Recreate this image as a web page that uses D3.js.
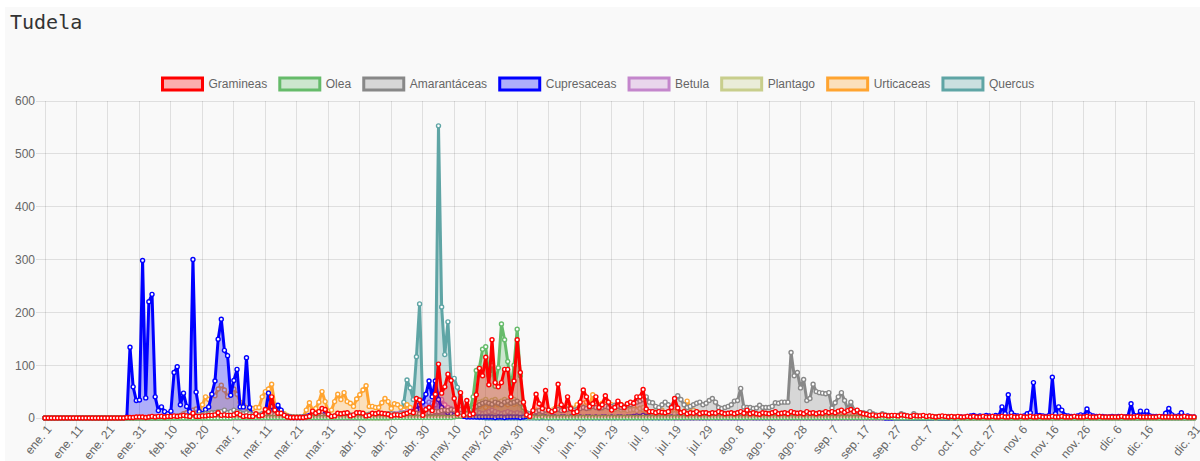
<!DOCTYPE html>
<html><head><meta charset="utf-8">
<script src="https://cdn.jsdelivr.net/npm/d3@7"></script>
<style>body{margin:0;background:#fff}svg{display:block}</style>
</head><body><svg id="c" width="1200" height="461"></svg>
<script>
const months = ["ene.","feb.","mar.","abr.","may.","jun.","jul.","ago.","sep.","oct.","nov.","dic."];
const monthDays = [31,29,31,30,31,30,31,31,30,31,30,31];
const categories = [];
months.forEach((m,k)=>{for(let d=1; d<=monthDays[k]; d++) categories.push(m+" "+d);});
const tickLabels = ["ene. 1","ene. 11","ene. 21","ene. 31","feb. 10","feb. 20","mar. 1","mar. 11","mar. 21","mar. 31","abr. 10","abr. 20","abr. 30","may. 10","may. 20","may. 30","jun. 9","jun. 19","jun. 29","jul. 9","jul. 19","jul. 29","ago. 8","ago. 18","ago. 28","sep. 7","sep. 17","sep. 27","oct. 7","oct. 17","oct. 27","nov. 6","nov. 16","nov. 26","dic. 6","dic. 16","dic. 31"];
const yTicks = [0,100,200,300,400,500,600];
const seriesNames = ["Gramineas","Olea","Amarantáceas","Cupresaceas","Betula","Plantago","Urticaceas","Quercus"];
const seriesColors = ["rgb(255,0,0)","rgb(102,187,106)","rgb(136,136,136)","rgb(0,0,255)","rgb(196,134,204)","rgb(200,206,140)","rgb(255,164,48)","rgb(95,165,165)"];

const gramineas = [
0,0,0,0,0,0,0,0,0,0, 0,0,0,0,0,0,0,0,0,0, 0,0,0,0,0,0,1,1,1,2, 2,2,1,2,3,2,3,3,2,3,
3,4,3,4,5,4,3,9,3,3, 4,4,5,5,6,10,5,6,5,5, 6,9,6,3,4,3,3,8,4,5, 16,12,40,15,9,9,5,2,1,1,
1,1,1,2,3,13,9,12,18,16, 7,3,4,9,8,9,10,4,6,10, 10,9,4,5,9,8,10,9,8,7, 4,6,6,5,7,9,12,10,37,34,
5,16,20,14,45,102,47,59,83,71, 37,8,48,5,33,6,8,44,94,80, 115,63,148,67,59,67,92,92,40,70, 148,86,30,6,3,14,45,27,18,52,
15,12,15,64,25,15,40,18,10,12, 30,53,40,22,27,40,20,25,42,30, 15,20,32,25,20,27,30,28,40,40, 54,17,12,12,10,12,11,10,12,20,
37,19,10,12,8,10,9,12,8,10, 10,8,10,9,12,10,8,9,10,8, 10,12,9,15,8,10,8,7,10,9, 8,10,12,8,9,10,8,12,10,9,
10,8,12,9,10,8,10,9,12,10, 12,10,13,15,11,14,16,12,15,10, 8,7,5,6,4,5,6,5,4,5, 5,4,6,5,4,3,5,4,4,5,
3,4,3,2,3,4,3,2,3,2, 3,2,2,3,2,3,2,2,3,2, 2,3,2,2,3,2,2,3,2,2, 3,2,2,3,2,2,3,2,2,2,
3,2,2,3,2,2,2,3,2,2, 2,3,2,2,2,3,2,2,2,2, 2,2,3,2,2,2,2,3,2,2, 2,2,2,2,3,2,2,2,2,2, 2,2,3,2,2,2];

const olea = [
0,0,0,0,0,0,0,0,0,0, 0,0,0,0,0,0,0,0,0,0, 0,0,0,0,0,0,0,0,0,0, 0,0,0,0,0,0,0,0,0,0,
0,0,0,0,0,0,0,0,0,0, 0,0,0,0,0,0,0,0,0,0, 1,1,1,1,1,1,1,1,1,1, 1,1,1,1,1,1,1,1,1,1,
1,1,1,1,1,1,1,1,1,1, 1,1,1,1,1,1,1,1,1,1, 1,1,1,1,1,1,1,1,1,1, 1,1,1,1,1,1,1,1,1,1,
1,1,1,1,1,1,1,1,1,1, 2,3,3,5,8,15,40,90,95,130, 135,80,100,60,95,178,148,107,55,100, 168,80,20,5,2,2,1,1,2,1,
1,1,1,1,1,1,1,1,1,1, 1,1,1,1,1,1,1,1,1,1, 1,1,1,1,1,1,1,1,1,1, 1,1,1,1,1,1,1,1,1,1,
1,1,1,1,1,1,1,1,1,1, 1,1,1,1,1,1,1,1,1,1, 1,1,1,1,1,1,1,1,1,1, 1,1,1,1,1,1,1,1,1,1,
1,1,1,1,1,1,1,1,1,1, 1,1,1,1,1,1,1,1,1,1, 1,1,1,1,1,1,1,1,1,1, 0,0,0,0,0,0,0,0,0,0,
0,0,0,0,0,0,0,0,0,0, 0,0,0,0,0,0,0,0,0,0, 0,0,0,0,0,0,0,0,0,0, 0,0,0,0,0,0,0,0,0,0,
0,0,0,0,0,0,0,0,0,0, 0,0,0,0,0,0,0,0,0,0, 0,0,0,0,0,0,0,0,0,0, 0,0,0,0,0,0,0,0,0,0, 0,0,0,0,0,0];

const amarantaceas = [
0,0,0,0,0,0,0,0,0,0, 0,0,0,0,0,0,0,0,0,0, 0,0,0,0,0,0,0,0,0,0, 0,0,0,0,0,0,0,0,0,0,
1,1,2,2,3,3,4,5,5,6, 6,8,8,10,10,12,12,15,10,12, 15,12,10,8,10,8,6,5,6,8, 8,10,8,6,5,4,3,2,2,2,
2,2,2,3,3,4,3,4,5,4, 4,3,4,5,5,4,5,6,5,6, 6,5,6,7,6,7,8,7,6,8, 8,7,6,8,9,8,7,8,9,8,
8,9,10,10,12,12,14,15,14,16, 15,14,16,18,16,18,20,22,25,28, 30,28,26,30,28,25,30,32,28,30, 32,28,20,10,8,10,12,14,12,15,
14,12,15,16,14,15,16,18,15,16, 18,20,18,20,22,20,18,20,22,20, 22,24,22,20,22,24,25,28,30,32, 35,40,30,29,22,20,25,30,25,20,
30,42,35,25,20,22,25,28,30,25, 28,33,37,30,20,18,20,22,25,32, 33,56,21,20,20,18,19,24,20,20, 20,22,29,28,30,30,30,124,80,86,
57,73,33,37,64,50,48,47,46,48, 19,29,40,48,33,17,30,15,12,10, 10,8,12,8,6,5,8,6,5,4, 4,5,8,6,4,3,8,5,3,4,
3,4,3,2,3,2,2,3,2,2, 1,1,1,1,1,1,1,1,1,1, 1,1,1,1,1,1,1,1,1,1, 1,1,1,1,1,1,1,1,1,1,
1,1,1,1,1,1,1,1,1,1, 1,1,1,1,1,1,1,1,1,1, 1,1,1,1,1,1,1,1,1,1, 1,1,1,1,1,1,1,1,1,1, 1,1,1,1,1,1];

const cupresaceas = [
0,0,0,0,0,0,0,0,0,0, 0,0,0,0,0,0,0,0,0,0, 0,0,0,0,0,0,2,134,59,33, 34,298,38,220,234,40,14,21,12,8,
13,86,97,25,47,22,12,300,49,12, 8,16,21,45,70,149,187,128,118,43, 71,92,21,21,114,20,2,5,5,4, 10,47,22,5,24,15,5,3,2,1,
1,1,2,3,5,4,3,6,12,5, 3,2,2,3,2,3,2,2,3,2, 3,2,3,3,4,3,2,3,2,3, 3,4,3,5,6,8,10,12,15,25,
30,45,70,40,70,35,20,15,10,8, 5,4,3,3,2,2,2,2,2,2, 2,2,2,1,2,2,1,2,2,2, 2,1,2,3,4,3,2,1,2,2,
1,2,2,1,2,2,1,2,2,1, 2,1,2,2,1,2,1,2,2,1, 2,1,2,2,1,2,2,3,4,3, 5,3,2,1,2,1,2,1,1,2,
1,2,1,1,2,1,1,2,1,1, 1,1,2,1,1,1,2,1,1,1, 1,1,1,1,2,1,1,1,1,1, 1,1,1,1,1,1,1,1,1,1,
1,1,1,1,1,1,1,1,1,1, 1,1,1,1,1,1,1,1,1,1, 1,1,1,1,1,1,1,0,0,0, 0,0,0,0,0,0,0,0,0,0,
0,0,0,1,0,0,0,0,1,0, 1,2,1,3,4,5,3,4,3,5, 4,3,5,4,21,8,44,10,5,4, 3,4,8,10,67,5,5,4,3,5,
77,8,21,15,5,4,3,3,4,6, 4,17,6,4,3,3,3,2,2,3, 2,3,2,2,3,27,5,4,13,5, 13,4,3,3,2,3,9,18,6,3, 4,10,3,4,2,2];

const betula = [
0,0,0,0,0,0,0,0,0,0, 0,0,0,0,0,0,0,0,0,0, 0,0,0,0,0,0,0,0,0,0, 0,0,0,0,0,0,0,0,0,0,
0,0,0,0,0,0,0,0,0,0, 0,0,0,0,0,0,0,0,0,0, 0,0,0,0,0,0,0,0,0,0, 0,0,0,0,0,0,0,0,0,0,
0,0,0,0,0,0,0,0,0,0, 0,0,0,0,0,0,0,0,0,0, 1,1,1,2,2,3,3,4,5,6, 6,8,8,10,10,12,12,15,18,20,
20,25,30,28,25,30,35,25,20,18, 15,12,10,12,10,8,10,12,10,8, 10,12,15,12,10,8,10,12,10,8, 10,8,5,3,2,2,1,1,1,1,
1,1,1,1,1,1,1,1,1,1, 1,1,1,1,1,1,1,1,1,1, 1,1,1,1,1,1,1,1,1,1, 1,1,1,1,1,1,1,1,1,1,
0,0,0,0,0,0,0,0,0,0, 0,0,0,0,0,0,0,0,0,0, 0,0,0,0,0,0,0,0,0,0, 0,0,0,0,0,0,0,0,0,0,
0,0,0,0,0,0,0,0,0,0, 0,0,0,0,0,0,0,0,0,0, 0,0,0,0,0,0,0,0,0,0, 0,0,0,0,0,0,0,0,0,0,
0,0,0,0,0,0,0,0,0,0, 0,0,0,0,0,0,0,0,0,0, 0,0,0,0,0,0,0,0,0,0, 0,0,0,0,0,0,0,0,0,0,
0,0,0,0,0,0,0,0,0,0, 0,0,0,0,0,0,0,0,0,0, 0,0,0,0,0,0,0,0,0,0, 0,0,0,0,0,0,0,0,0,0, 0,0,0,0,0,0];

const plantago = [
0,0,0,0,0,0,0,0,0,0, 0,0,0,0,0,0,0,0,0,0, 0,0,0,0,0,0,0,0,0,0, 0,0,0,0,0,0,0,0,0,0,
0,0,0,0,0,0,0,0,0,0, 0,0,0,0,0,0,0,0,0,0, 0,0,0,0,0,0,0,0,0,0, 0,0,0,0,0,0,0,0,0,0,
0,0,0,0,0,0,0,0,0,0, 0,0,0,0,0,0,0,0,0,0, 0,0,0,0,0,0,0,0,0,0, 1,1,2,2,3,3,4,5,5,6,
6,8,8,10,10,12,10,12,14,12, 15,14,16,18,20,22,25,28,30,32, 35,30,33,35,30,32,35,30,28,35, 30,25,15,8,6,8,10,12,10,15,
12,14,16,18,15,16,18,20,16,18, 20,22,20,18,22,24,20,18,22,20, 18,16,18,15,16,14,15,16,14,18, 20,15,12,10,12,10,8,10,8,7,
8,6,5,6,5,4,5,4,3,4, 3,3,2,3,2,2,3,2,2,2, 2,1,1,1,1,1,1,1,1,1, 0,0,0,0,0,0,0,0,0,0,
0,0,0,0,0,0,0,0,0,0, 0,0,0,0,0,0,0,0,0,0, 0,0,0,0,0,0,0,0,0,0, 0,0,0,0,0,0,0,0,0,0,
0,0,0,0,0,0,0,0,0,0, 0,0,0,0,0,0,0,0,0,0, 0,0,0,0,0,0,0,0,0,0, 0,0,0,0,0,0,0,0,0,0,
0,0,0,0,0,0,0,0,0,0, 0,0,0,0,0,0,0,0,0,0, 0,0,0,0,0,0,0,0,0,0, 0,0,0,0,0,0,0,0,0,0, 0,0,0,0,0,0];

const urticaceas = [
0,0,0,0,0,0,0,0,0,0, 0,0,0,0,0,0,0,0,0,0, 0,0,0,0,0,0,0,0,0,0, 0,0,0,0,0,0,0,0,0,0,
2,3,4,5,8,10,12,15,17,15, 25,40,35,45,42,55,62,53,40,48, 55,45,30,25,20,15,18,20,20,40, 50,55,64,25,18,13,8,5,3,2,
2,2,2,15,29,15,18,30,50,31, 12,15,31,45,35,48,31,28,22,36, 44,53,61,22,22,20,20,29,37,31, 18,27,25,20,15,25,20,15,10,8,
8,10,12,10,8,10,12,15,12,10, 12,15,10,12,15,18,20,18,22,25, 20,25,22,28,25,30,28,25,30,26, 28,25,15,8,6,10,15,12,10,15,
12,15,18,20,15,18,22,20,18,25, 22,28,30,25,44,30,25,28,26,30, 25,20,22,25,20,18,20,22,15,18, 15,12,10,12,10,12,15,10,12,15,
12,15,10,12,32,20,15,12,10,8, 8,6,5,6,5,4,5,6,4,5, 4,5,3,4,5,3,4,3,4,5, 5,4,3,4,3,8,4,3,2,3,
2,3,4,5,3,2,2,3,2,2, 2,2,2,3,2,2,2,2,2,2, 2,1,1,2,1,1,1,1,1,1, 0,0,0,0,0,0,0,0,0,0,
0,0,0,0,0,0,0,0,0,0, 0,0,0,0,0,0,0,0,0,0, 0,0,0,0,0,0,0,0,0,0, 0,0,0,0,0,0,0,0,0,0,
0,0,0,0,0,0,0,0,0,0, 0,0,0,0,0,0,0,0,0,0, 0,0,0,0,0,0,0,0,0,0, 0,0,0,0,0,0,0,0,0,0, 0,0,0,0,0,0];

const quercus = [
0,0,0,0,0,0,0,0,0,0, 0,0,0,0,0,0,0,0,0,0, 0,0,0,0,0,0,0,0,0,0, 0,0,0,0,0,0,0,0,0,0,
0,0,0,0,0,0,0,0,0,0, 0,0,0,0,0,0,0,0,0,0, 0,0,0,0,0,0,0,0,0,0, 0,0,0,0,0,0,0,0,0,0,
0,0,0,0,0,0,0,0,0,0, 0,0,0,0,0,0,0,0,0,0, 0,0,0,0,0,0,0,0,0,0, 1,2,3,10,30,72,57,35,116,216,
25,15,15,20,40,553,210,120,182,73, 75,58,40,20,10,5,3,2,1,1, 0,0,0,0,0,0,0,0,0,0, 0,0,0,0,0,0,0,0,0,0,
0,0,0,0,0,0,0,0,0,0, 0,0,0,0,0,0,0,0,0,0, 0,0,0,0,0,0,0,0,0,0, 0,0,0,0,0,0,0,0,0,0,
0,0,0,0,0,0,0,0,0,0, 0,0,0,0,0,0,0,0,0,0, 0,0,0,0,0,0,0,0,0,0, 0,0,0,0,0,0,0,0,0,0,
0,0,0,0,0,0,0,0,0,0, 0,0,0,0,0,0,0,0,0,0, 0,0,0,0,0,0,0,0,0,0, 0,0,0,0,0,0,0,0,0,0,
0,0,0,0,0,0,0,0,0,0, 0,0,0,0,0,0,0,0,0,0, 0,0,0,0,0,0,0,0,0,0, 0,0,0,0,0,0,0,0,0,0,
0,0,0,0,0,0,0,0,0,0, 0,0,0,0,0,0,0,0,0,0, 0,0,0,0,0,0,0,0,0,0, 0,0,0,0,0,0,0,0,0,0, 0,0,0,0,0,0];

const seriesValues = [gramineas, olea, amarantaceas, cupresaceas, betula, plantago, urticaceas, quercus];

const W = 1200, H = 461;
const pLeft = 45, pRight = 1194, pTop = 101, pBottom = 418;
const svg = d3.select("#c");
const FONT = "'Liberation Sans', Arial, sans-serif";

svg.append("rect").attr("x",5).attr("y",7).attr("width",W-5).attr("height",H-7).attr("fill","#f9f9f9");
svg.append("text").attr("x",10).attr("y",29).text("Tudela")
  .attr("font-family","'DejaVu Sans Mono', monospace").attr("font-size",20).attr("fill","#333");

const x = d3.scaleLinear().domain([0, categories.length-1]).range([pLeft, pRight]);
const y = d3.scaleLinear().domain([0, 600]).range([pBottom, pTop]);

// grid
const grid = svg.append("g");
yTicks.forEach(t => {
  grid.append("line").attr("x1",pLeft-9).attr("x2",pRight).attr("y1",y(t)).attr("y2",y(t))
    .attr("stroke","rgba(0,0,0,0.1)").attr("stroke-width",1).attr("shape-rendering","crispEdges");
});
const tickIdx = tickLabels.map(l => categories.indexOf(l));
tickIdx.forEach(i => {
  grid.append("line").attr("x1",x(i)).attr("x2",x(i)).attr("y1",pTop).attr("y2",pBottom+9)
    .attr("stroke","rgba(0,0,0,0.1)").attr("stroke-width",1).attr("shape-rendering","crispEdges");
});

// y labels
const yAxis = d3.axisLeft(y).tickValues(yTicks).tickSize(0).tickPadding(10);
const ya = svg.append("g").attr("transform",`translate(${pLeft},0)`).call(yAxis);
ya.select(".domain").remove();
ya.selectAll("text").attr("font-family",FONT).attr("font-size",12).attr("fill","#666");

// x labels
const xl = svg.append("g");
tickLabels.forEach((lab,k) => {
  const i = tickIdx[k];
  xl.append("text").attr("transform",`translate(${x(i)+4},${pBottom+9}) rotate(-50)`)
    .attr("text-anchor","end").attr("dy","0.35em")
    .attr("font-family",FONT).attr("font-size",12).attr("fill","#666").text(lab);
});

// data
const plot = svg.append("g");
const area = d3.area().x((d,i)=>x(i)).y0(y(0)).y1(d=>y(d));
const line = d3.line().x((d,i)=>x(i)).y(d=>y(d));
for (let s = seriesValues.length-1; s >= 0; s--) {
  const vals = seriesValues[s];
  const col = d3.color(seriesColors[s]);
  const fillc = d3.color(seriesColors[s]); fillc.opacity = 0.3;
  const g = plot.append("g");
  g.append("path").attr("d", area(vals)).attr("fill", fillc.toString());
  g.append("path").attr("d", line(vals)).attr("fill","none").attr("stroke", col.toString())
    .attr("stroke-width", 3).attr("stroke-linejoin","round");
  g.selectAll("circle").data(vals).join("circle")
    .attr("cx",(d,i)=>x(i)).attr("cy",d=>y(d)).attr("r",2)
    .attr("fill","#fff").attr("stroke",col.toString()).attr("stroke-width",1.4);
}

// legend
const leg = svg.append("g");
let cx = 0; const items = [];
seriesNames.forEach((n,s) => {
  const g = leg.append("g");
  const c = d3.color(seriesColors[s]); const f = d3.color(seriesColors[s]); f.opacity = 0.3;
  g.append("rect").attr("x",0).attr("y",-6).attr("width",40).attr("height",12)
    .attr("fill",f.toString()).attr("stroke",c.toString()).attr("stroke-width",3);
  const t = g.append("text").attr("x",46).attr("dy","0.35em").attr("font-family",FONT)
    .attr("font-size",12).attr("fill","#666").text(n);
  const tw = t.node().getComputedTextLength();
  items.push({g, x: cx});
  cx += 46 + tw + 12.6;
});
const total = cx - 12.6;
const start = 598.4 - total/2;
items.forEach(it => it.g.attr("transform",`translate(${start+it.x},84)`));
</script>
</body></html>
